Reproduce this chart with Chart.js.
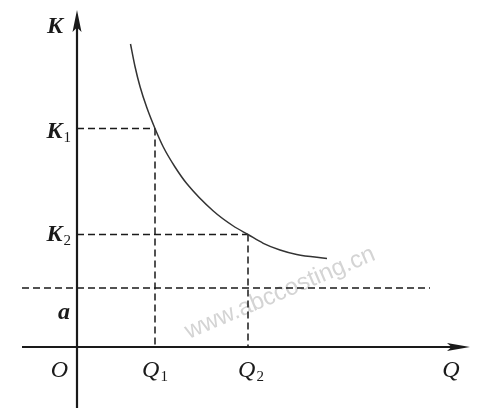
<!DOCTYPE html>
<html>
<head>
<meta charset="utf-8">
<script src="https://cdn.jsdelivr.net/npm/chart.js@4.4.1/dist/chart.umd.min.js"></script>
<style>
  html, body { margin: 0; padding: 0; background: #fff; }
  #wrap { width: 489px; height: 417px; position: relative; }
</style>
</head>
<body>
<div id="wrap"><canvas id="costChart"></canvas></div>
<script>
// curve (Q, K)
const curveQ = [5.35, 5.8, 6.3, 6.97, 7.8, 8.63, 9.8, 10.97, 13.63, 15.63, 17.1, 18.63, 20.3, 21.97, 25.0];
const curveK = [30.3, 28.05, 26.05, 23.97, 21.85, 20.0, 18.0, 16.35, 13.6, 12.1, 11.25, 10.37, 9.7, 9.25, 8.85];

// marked levels
const markQ = [7.8, 17.1];      // Q1, Q2
const markK = [21.85, 11.25];   // K1, K2
const aLevel = 5.9;

// axis extents
const xAxisRange = [-5.5, 39.3];
const yAxisRange = [-6.1, 33.7];
const aLineRange = [-5.5, 35.3];

// text
const qLabels = ['Q', '1', '2'];
const kLabels = ['K', '1', '2'];
const otherLabels = ['O', 'a', 'Q'];
const watermark = 'www.abccosting.cn';

const ink = '#1a1a1a';
const dash = [7, 4];

function seg(x1, y1, x2, y2) {
  return [{ x: x1, y: y1 }, { x: x2, y: y2 }];
}

const datasets = [
  // curve
  {
    data: curveQ.map((q, i) => ({ x: q, y: curveK[i] })),
    borderColor: '#333', borderWidth: 1.5, cubicInterpolationMode: 'monotone'
  },
  // K1 / Q1 guides
  { data: seg(0, markK[0], markQ[0], markK[0]), borderDash: dash },
  { data: seg(markQ[0], markK[0], markQ[0], 0), borderDash: dash },
  // K2 / Q2 guides
  { data: seg(0, markK[1], markQ[1], markK[1]), borderDash: dash },
  { data: seg(markQ[1], markK[1], markQ[1], 0), borderDash: dash },
  // a level
  { data: seg(aLineRange[0], aLevel, aLineRange[1], aLevel), borderDash: dash },
  // axes
  { data: seg(xAxisRange[0], 0, xAxisRange[1] - 1.5, 0), borderWidth: 2.2 },
  { data: seg(0, yAxisRange[0], 0, yAxisRange[1] - 1.5), borderWidth: 2.2 }
].map(d => Object.assign({
  showLine: true,
  pointRadius: 0,
  borderColor: ink,
  borderWidth: 1.5,
  fill: false,
  clip: false
}, d));

function arrow(ctx, tx, ty, dx, dy, len, half) {
  const bx = tx - dx * len, by = ty - dy * len;
  const px = -dy, py = dx;
  ctx.beginPath();
  ctx.moveTo(tx, ty);
  ctx.lineTo(bx + px * half, by + py * half);
  ctx.lineTo(tx - dx * len * 0.8, ty - dy * len * 0.8);
  ctx.lineTo(bx - px * half, by - py * half);
  ctx.closePath();
  ctx.fill();
}

const serif = '"Liberation Serif", "DejaVu Serif", serif';

function label(ctx, main, sub, x, baseline, align, bold, size) {
  const mainFont = (bold ? 'italic bold ' : 'italic ') + size + 'px ' + serif;
  const subFont = '15px ' + serif;
  ctx.font = mainFont;
  const w1 = ctx.measureText(main).width;
  ctx.font = subFont;
  const w2 = sub ? ctx.measureText(sub).width + 1 : 0;
  const total = w1 + w2;
  let left = x;
  if (align === 'center') left = x - total / 2;
  if (align === 'right') left = x - total;
  ctx.textAlign = 'left';
  ctx.textBaseline = 'alphabetic';
  ctx.font = mainFont;
  ctx.fillText(main, left, baseline);
  if (sub) {
    ctx.font = subFont;
    ctx.fillText(sub, left + w1 + 1, baseline + 4);
  }
}

const sketchPlugin = {
  id: 'sketch',
  beforeDatasetsDraw(chart) {
    const { ctx, scales: { x, y } } = chart;
    // watermark
    ctx.save();
    ctx.translate(x.getPixelForValue(20.3), y.getPixelForValue(5.4));
    ctx.rotate(-23 * Math.PI / 180);
    ctx.fillStyle = '#d4d4d4';
    ctx.font = '24px "Liberation Sans", Arial, sans-serif';
    ctx.textAlign = 'center';
    ctx.textBaseline = 'middle';
    ctx.fillText(watermark, 0, 0);
    ctx.restore();
  },
  afterDatasetsDraw(chart) {
    const { ctx, scales: { x, y } } = chart;
    const ox = x.getPixelForValue(0), oy = y.getPixelForValue(0);
    ctx.save();
    ctx.fillStyle = ink;
    // arrow heads
    arrow(ctx, ox, y.getPixelForValue(yAxisRange[1]), 0, -1, 22, 4.5);
    arrow(ctx, x.getPixelForValue(xAxisRange[1]), oy, 1, 0, 23, 4);

    // vertical axis labels
    label(ctx, kLabels[0], '', ox - 22, y.getPixelForValue(yAxisRange[1]) + 23, 'center', true, 24);
    label(ctx, kLabels[0], kLabels[1], ox - 6, y.getPixelForValue(markK[0]) + 9, 'right', true, 24);
    label(ctx, kLabels[0], kLabels[2], ox - 6, y.getPixelForValue(markK[1]) + 6, 'right', true, 24);
    label(ctx, otherLabels[1], '', ox - 7, (y.getPixelForValue(aLevel) + oy) / 2 + 1, 'right', true, 24);

    // horizontal axis labels
    const base = oy + 30;
    label(ctx, otherLabels[0], '', ox - 9, base, 'right', false, 24);
    label(ctx, qLabels[0], qLabels[1], x.getPixelForValue(markQ[0]), base, 'center', false, 24);
    label(ctx, qLabels[0], qLabels[2], x.getPixelForValue(markQ[1]) + 3, base, 'center', false, 24);
    label(ctx, otherLabels[2], '', x.getPixelForValue(xAxisRange[1]) - 19, base, 'center', false, 24);
    ctx.restore();
  }
};

new Chart(document.getElementById('costChart'), {
  type: 'scatter',
  data: { datasets: datasets },
  options: {
    responsive: true,
    maintainAspectRatio: false,
    animation: false,
    layout: { padding: 0 },
    plugins: { legend: { display: false }, tooltip: { enabled: false } },
    scales: {
      x: { type: 'linear', min: -7.7, max: 41.2, display: false },
      y: { type: 'linear', min: -7.0, max: 34.7, display: false }
    }
  },
  plugins: [sketchPlugin]
});
</script>
</body>
</html>
